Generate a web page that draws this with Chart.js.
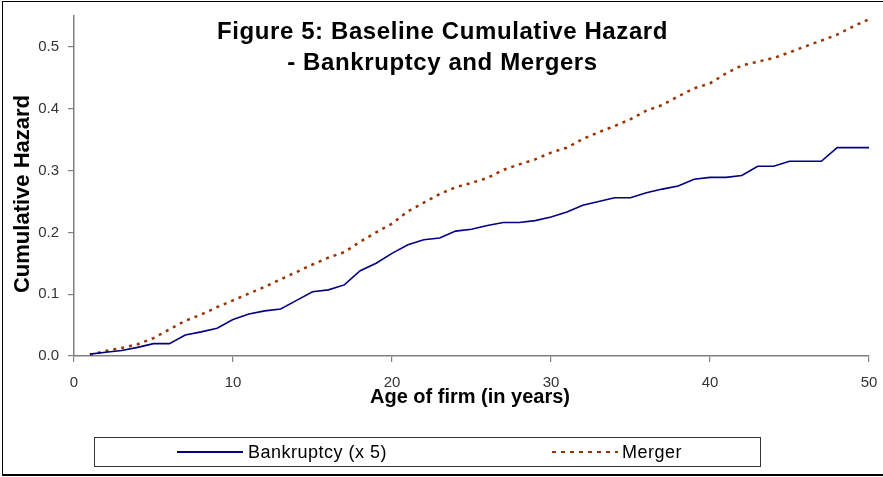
<!DOCTYPE html>
<html>
<head>
<meta charset="utf-8">
<script src="https://cdn.jsdelivr.net/npm/chart.js@4.4.1/dist/chart.umd.min.js"></script>
<style>
  body { margin: 0; background: #fff; }
  #wrap { position: relative; width: 883px; height: 477px; overflow: hidden; font-family: "Liberation Sans", Arial, sans-serif; }
  #frame { position: absolute; left: 2px; top: 1px; width: 900px; height: 475px; box-sizing: border-box; border: 1px solid #000; border-bottom-width: 2px; }
  #chart { position: absolute; left: 0; top: 0; }
  .title { position: absolute; left: 0; top: 15px; width: 885px; text-align: center; font-weight: bold; font-size: 24px; line-height: 31px; color: #000; letter-spacing: 0.6px; }
  .ytitle { position: absolute; left: -128px; top: 181px; width: 300px; height: 26px; line-height: 26px; text-align: center; font-weight: bold; font-size: 22px; transform: rotate(-90deg); }
  .xtitle { position: absolute; left: 0; top: 384px; width: 940px; height: 24px; line-height: 24px; text-align: center; font-weight: bold; font-size: 20px; }
  #legend { position: absolute; left: 94px; top: 437px; width: 667px; height: 30px; box-sizing: border-box; border: 1px solid #333; }
  .lg-text { position: absolute; top: 441px; font-size: 18px; line-height: 22px; color: #000; letter-spacing: 0.5px; }
  .lg-line { position: absolute; top: 448px; }
</style>
</head>
<body>
<div id="wrap">
  <canvas id="chart" width="883" height="477"></canvas>
  <div id="frame"></div>
  <div class="title">Figure 5: Baseline Cumulative Hazard<br>- Bankruptcy and Mergers</div>
  <div class="ytitle">Cumulative Hazard</div>
  <div class="xtitle">Age of firm (in years)</div>
  <div id="legend"></div>
  <svg class="lg-line" style="left:177px" width="66" height="8"><line x1="0" y1="4" x2="66" y2="4" stroke="#000080" stroke-width="2"/></svg>
  <div class="lg-text" style="left:248px">Bankruptcy (x 5)</div>
  <svg class="lg-line" style="left:552px" width="66" height="8"><line x1="0" y1="4" x2="66" y2="4" stroke="#993300" stroke-width="2" stroke-dasharray="4 5"/></svg>
  <div class="lg-text" style="left:622px">Merger</div>
</div>
<script>
const ages = [1,2,3,4,5,6,7,8,9,10,11,12,13,14,15,16,17,18,19,20,21,22,23,24,25,
  26,27,28,29,30,31,32,33,34,35,36,37,38,39,40,41,42,43,44,45,46,47,48,49,50]

const bankruptcy = [0.003,0.006,0.009,0.014,0.020,0.020,0.034,0.039,0.045,0.059,
  0.068,0.073,0.076,0.090,0.104,0.107,0.115,0.138,0.150,0.166,
  0.180,0.188,0.191,0.202,0.205,0.211,0.216,0.216,0.219,0.225,
  0.233,0.244,0.250,0.256,0.256,0.264,0.270,0.275,0.286,0.289,
  0.289,0.292,0.307,0.307,0.315,0.315,0.315,0.337,0.337,0.337]

const merger = [0.002,0.008,0.013,0.019,0.029,0.043,0.057,0.067,0.079,0.090,
  0.101,0.112,0.124,0.136,0.148,0.159,0.168,0.185,0.200,0.214,
  0.234,0.248,0.262,0.273,0.280,0.288,0.301,0.310,0.318,0.329,
  0.337,0.351,0.362,0.372,0.383,0.397,0.406,0.420,0.433,0.441,
  0.457,0.470,0.476,0.482,0.491,0.501,0.510,0.520,0.533,0.545]

const xTicks = [0,10,20,30,40,50]
const yTicks = [0,0.1,0.2,0.3,0.4,0.5]

const toPoints = (vals) => ages.map((a, i) => ({ x: a, y: vals[i] }))

const axisColor = '#808080'
const tickFont = { family: '"Liberation Sans", Arial, sans-serif', size: 15 }

new Chart(document.getElementById('chart'), {
  type: 'line',
  data: {
    datasets: [
      {
        label: 'Bankruptcy (x 5)',
        data: toPoints(bankruptcy),
        borderColor: '#000080',
        borderWidth: 1.6,
        pointRadius: 0,
        tension: 0
      },
      {
        label: 'Merger',
        data: toPoints(merger),
        borderColor: '#993300',
        borderWidth: 2.5,
        borderDash: [3, 5],
        pointRadius: 0,
        tension: 0
      }
    ]
  },
  options: {
    responsive: false,
    animation: false,
    layout: { padding: { left: 0, right: 14, top: 16, bottom: 0 } },
    plugins: { legend: { display: false }, title: { display: false }, tooltip: { enabled: false } },
    scales: {
      x: {
        type: 'linear',
        min: 0,
        max: 50,
        afterBuildTicks: (s) => { s.ticks = xTicks.map(v => ({ value: v })) },
        afterFit: (s) => { s.height = 121; s.paddingLeft = 0; s.paddingRight = 0 },
        grid: { drawOnChartArea: false, drawTicks: true, tickLength: 6, color: axisColor, lineWidth: 1.2 },
        border: { color: axisColor, width: 1.5 },
        ticks: { font: tickFont, color: '#333', padding: 12, maxRotation: 0 }
      },
      y: {
        min: 0,
        max: 0.55,
        afterBuildTicks: (s) => { s.ticks = yTicks.map(v => ({ value: v })) },
        afterFit: (s) => { s.width = 74; s.paddingTop = 0; s.paddingBottom = 0 },
        grid: { drawOnChartArea: false, drawTicks: true, tickLength: 6, color: axisColor, lineWidth: 1.2 },
        border: { color: axisColor, width: 1.5 },
        ticks: { font: tickFont, color: '#333', padding: 9, callback: (v) => v.toFixed(1) }
      }
    }
  }
})
</script>
</body>
</html>
